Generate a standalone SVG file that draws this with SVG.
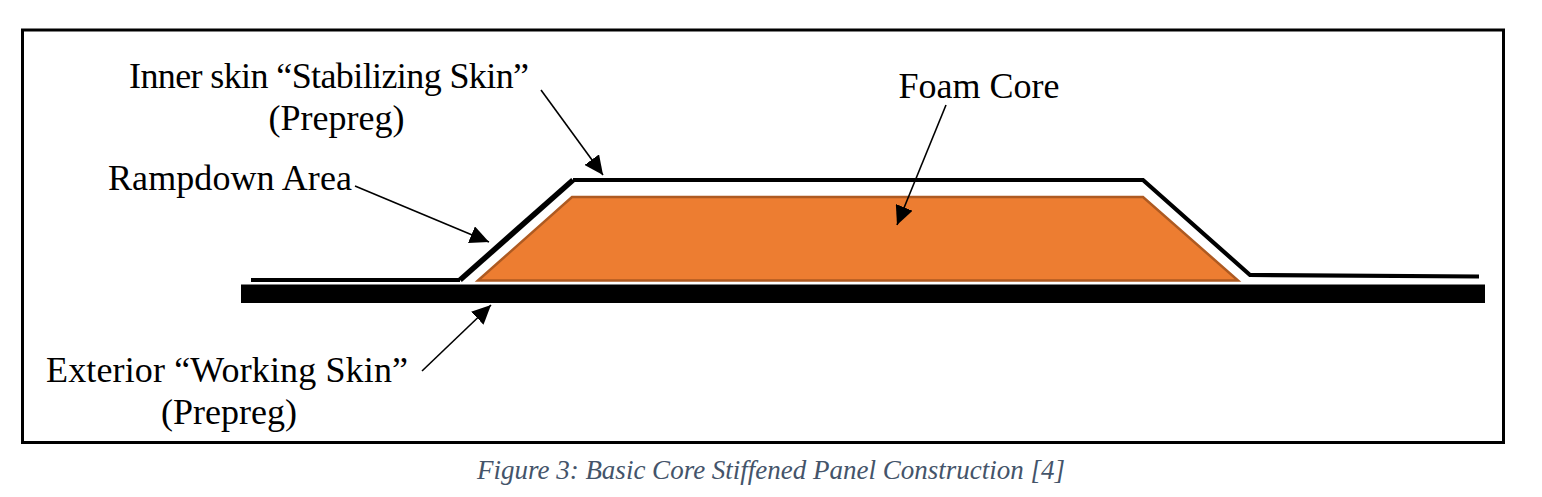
<svg xmlns="http://www.w3.org/2000/svg" width="1542" height="497" viewBox="0 0 1542 497">
<style>
text{font-family:"Liberation Serif","Times New Roman",serif;font-size:36px;fill:#000}
.c{text-anchor:middle}
.a{stroke:#000;stroke-width:1.6;fill:none;marker-end:url(#h)}
.s{fill:none;stroke:#000;stroke-width:4.200}
</style>
<defs><marker id="h" markerUnits="userSpaceOnUse" markerWidth="20" markerHeight="18" refX="19" refY="9" orient="auto"><path d="M0 0L19 9L0 18z" fill="#000"/></marker></defs>
<rect width="1542" height="497" fill="#fff"/>
<rect id="frame" x="22.500" y="30" width="1481" height="412.500" fill="#fff" stroke="#000" stroke-width="3"/>
<g id="exterior-skin"><rect x="241" y="284.500" width="1244" height="18.500" fill="#000"/></g>
<g id="foam-core"><path d="M478 280.500L572 197H1143L1238 280.500Z" fill="#ED7D31" stroke="#AE5A21" stroke-width="2.500"/></g>
<g id="inner-skin"><path class="s" d="M251 280H460"/><path class="s" style="stroke-width:5.500" d="M460 280L573 180"/><path class="s" d="M573 180H1143L1250 275L1479 276.500"/></g>
<g id="connectors">
<path class="a" d="M541 90L603 175"/>
<path class="a" d="M946 105L897 225"/>
<path class="a" d="M355 186L489 242"/>
<path class="a" d="M422 371L491 305"/>
</g>
<g id="label-inner"><text class="c" x="329" y="88" textLength="400" lengthAdjust="spacing">Inner skin “Stabilizing Skin”</text><text class="c" x="336.500" y="130">(Prepreg)</text></g>
<g id="label-foam"><text class="c" x="979" y="98">Foam Core</text></g>
<g id="label-ramp"><text x="108" y="190" textLength="244" lengthAdjust="spacing">Rampdown Area</text></g>
<g id="label-exterior"><text class="c" x="227" y="382" textLength="362" lengthAdjust="spacing">Exterior “Working Skin”</text><text class="c" x="229" y="424">(Prepreg)</text></g>
<text id="caption" x="771" y="479" text-anchor="middle" style="font-size:27px;font-style:italic;fill:#44546A">Figure 3: Basic Core Stiffened Panel Construction [4]</text>
</svg>
